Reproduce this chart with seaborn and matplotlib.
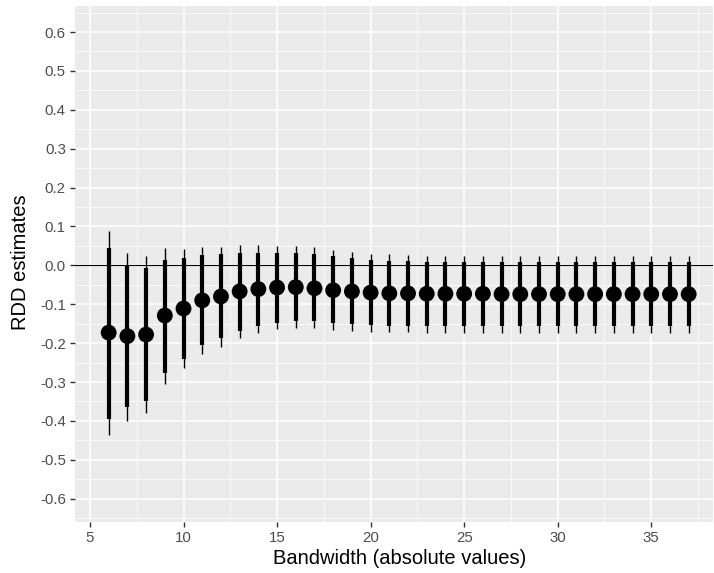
import numpy as np
import pandas as pd
import matplotlib
matplotlib.use("Agg")
import matplotlib.pyplot as plt
import seaborn as sns
from matplotlib.ticker import MultipleLocator

bandwidth = list(range(6, 38))
estimate = [-0.173, -0.182, -0.178, -0.129, -0.111, -0.090, -0.080, -0.067,
            -0.061, -0.057, -0.056, -0.059, -0.064, -0.067, -0.070, -0.072,
            -0.072, -0.073, -0.073, -0.073, -0.073, -0.074, -0.074, -0.074,
            -0.074, -0.074, -0.074, -0.074, -0.074, -0.074, -0.074, -0.074]
ci90_hi = [0.044, 0.000, -0.008, 0.015, 0.018, 0.026, 0.028, 0.033,
           0.033, 0.033, 0.033, 0.028, 0.023, 0.018, 0.015, 0.011,
           0.010, 0.008, 0.008, 0.008, 0.008, 0.008, 0.008, 0.008,
           0.008, 0.008, 0.008, 0.008, 0.008, 0.008, 0.008, 0.008]
ci90_lo = [-0.394, -0.363, -0.348, -0.278, -0.240, -0.206, -0.188, -0.168,
           -0.157, -0.147, -0.142, -0.144, -0.149, -0.152, -0.154, -0.155,
           -0.156, -0.157, -0.157, -0.157, -0.157, -0.157, -0.157, -0.157,
           -0.157, -0.157, -0.157, -0.157, -0.157, -0.157, -0.157, -0.157]
ci95_hi = [0.088, 0.033, 0.023, 0.044, 0.041, 0.046, 0.047, 0.052,
           0.052, 0.050, 0.049, 0.046, 0.039, 0.034, 0.030, 0.028,
           0.026, 0.024, 0.023, 0.023, 0.023, 0.023, 0.023, 0.023,
           0.023, 0.023, 0.023, 0.023, 0.023, 0.023, 0.023, 0.023]
ci95_lo = [-0.436, -0.400, -0.379, -0.304, -0.265, -0.229, -0.209, -0.188,
           -0.175, -0.164, -0.162, -0.162, -0.167, -0.168, -0.171, -0.171,
           -0.172, -0.173, -0.173, -0.173, -0.173, -0.173, -0.173, -0.173,
           -0.173, -0.173, -0.173, -0.173, -0.173, -0.173, -0.173, -0.173]

y_ticks = [0.6, 0.5, 0.4, 0.3, 0.2, 0.1, 0.0, -0.1, -0.2, -0.3, -0.4, -0.5, -0.6]
x_ticks = [5, 10, 15, 20, 25, 30, 35]

df = pd.DataFrame({"bw": bandwidth, "est": estimate,
                   "lo90": ci90_lo, "hi90": ci90_hi,
                   "lo95": ci95_lo, "hi95": ci95_hi})

sns.set_theme(style="darkgrid", rc={
    "axes.facecolor": "#EBEBEB",
    "grid.color": "white",
    "axes.edgecolor": "#EBEBEB",
})
plt.rcParams["font.family"] = ["Liberation Sans", "DejaVu Sans"]

fig = plt.figure(figsize=(7.14, 5.73), dpi=100)
ax = fig.add_axes([75 / 714, 1 - 522 / 573, (713 - 75) / 714, (522 - 6) / 573])

ax.vlines(df["bw"], df["lo95"], df["hi95"], color="black", linewidth=1.0, zorder=3)
ax.vlines(df["bw"], df["lo90"], df["hi90"], color="black", linewidth=3.0, zorder=4)
ax.axhline(0, color="black", linewidth=0.8, zorder=2)
sns.scatterplot(data=df, x="bw", y="est", ax=ax, color="black", s=130,
                edgecolor="none", zorder=5, legend=False)

ax.set_xlim(4.2, 38.3)
ax.set_ylim(-0.66, 0.667)
ax.set_xticks(x_ticks)
ax.set_yticks(y_ticks)
ax.set_yticklabels([f"{v:.1f}" for v in y_ticks])
ax.xaxis.set_minor_locator(MultipleLocator(2.5))
ax.yaxis.set_minor_locator(MultipleLocator(0.05))
ax.grid(which="major", color="white", linewidth=1.1)
ax.grid(which="minor", color="white", linewidth=0.55)
ax.set_axisbelow(True)
for s in ax.spines.values():
    s.set_visible(False)

ax.tick_params(axis="both", which="major", length=3.6, width=1, color="#333333",
               labelcolor="#4D4D4D", labelsize=10.8, pad=3, bottom=True, left=True)
ax.tick_params(axis="both", which="minor", length=0)

ax.set_xlabel("Bandwidth (absolute values)", fontsize=14.5, color="black")
ax.set_ylabel("RDD estimates", fontsize=14.5, color="black")
ax.xaxis.set_label_coords(0.5 + (400 - 394) / 638, (522 - 559) / 516)
ax.xaxis.label.set_verticalalignment("center")
ax.yaxis.set_label_coords((21 - 75) / 638, (522 - 262) / 516)
ax.yaxis.label.set_verticalalignment("center")

fig.savefig("out.png", dpi=100)
